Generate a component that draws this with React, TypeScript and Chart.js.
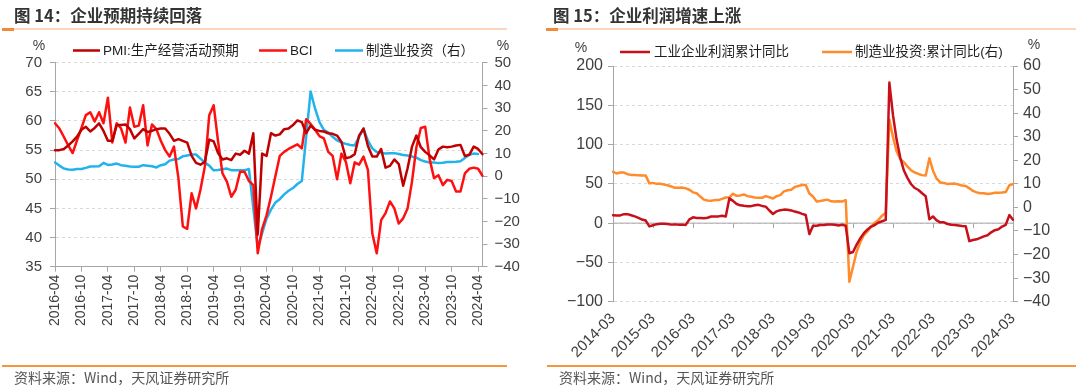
import React, { useEffect, useRef } from "react";
import { Chart, registerables } from "chart.js";
Chart.register(...registerables);

const LATIN = '"Liberation Sans", Arial, sans-serif';
const MIXED = '"Liberation Sans", "Noto Sans CJK SC", sans-serif';
const CJK = '"Noto Sans CJK SC", "Liberation Sans", sans-serif';
const AXIS = "#A6A6A6";
const GRID = "#D9D9D9";
const TEXT = "#404040";

function monthRange(start: string, end: string, skipJan: boolean): string[] {
  const [sy, sm] = start.split("-").map(Number);
  const [ey, em] = end.split("-").map(Number);
  const out: string[] = [];
  let y = sy, m = sm;
  while (y < ey || (y === ey && m <= em)) {
    if (!(skipJan && m === 1)) out.push(`${y}-${String(m).padStart(2, "0")}`);
    m++;
    if (m > 12) { m = 1; y++; }
  }
  return out;
}

// ---------- Figure 14 ----------
const leftMonths = monthRange("2016-04", "2024-05", false);
const leftLabelEvery = 6;
const leftYTicks = { min: 35, max: 70, step: 5 };
const leftY1Ticks = { min: -40, max: 50, step: 10 };

const pmiExpect = [
  55.0, 55.0, 55.2, 55.8, 56.5, 57.3, 58.5, 59.0, 58.2, 58.8, 59.6, 58.3,
  56.6, 56.6, 59.3, 59.3, 59.4, 58.6, 57.0, 57.8, 58.6, 58.1, 58.3, 58.6,
  58.7, 58.7, 57.8, 56.6, 56.9, 56.6, 56.3, 54.0, 52.8, 52.5, 53.0, 56.8,
  56.5, 54.5, 53.4, 53.6, 53.3, 54.4, 54.2, 54.9, 54.4, 57.9, 40.5, 54.4,
  54.0, 57.9, 57.5, 57.7, 58.6, 58.7, 59.3, 60.1, 59.8, 57.9, 59.2, 58.5,
  58.3, 58.2, 57.9, 57.8, 57.5, 56.4, 53.6, 53.8, 54.3, 57.5, 58.7, 55.7,
  53.9, 53.9, 55.2, 52.0, 52.3, 53.4, 52.6, 48.9, 51.9, 55.6, 57.5, 55.5,
  54.7, 54.1, 53.4, 55.1, 55.6, 55.5, 55.6, 55.8, 55.9, 54.0, 54.2, 55.6,
  55.2, 54.3,
];

const bci = [
  59.6, 58.7, 57.3, 55.8, 54.5, 56.7, 58.8, 61.0, 61.5, 59.9, 61.5, 59.6,
  64.0, 56.3, 59.6, 58.7, 56.3, 62.3, 59.0, 59.2, 62.7, 55.8, 59.4, 58.6,
  56.6, 55.0, 53.9, 55.6, 50.2, 41.9, 41.5, 47.6, 45.0, 48.2, 52.2, 61.0,
  62.7, 56.5, 51.0, 49.6, 47.0, 48.2, 51.3, 51.3, 49.7, 49.0, 37.3, 41.5,
  43.8, 47.0, 50.5, 54.0, 54.7, 55.2, 55.6, 56.0, 55.3, 60.3, 59.5, 58.5,
  57.4, 57.0, 54.7, 54.0, 50.0, 54.4, 53.0, 49.3, 52.9, 52.5, 53.9, 51.6,
  40.7, 37.3, 43.0, 44.2, 46.2, 45.0, 42.4, 43.3, 45.0, 49.6, 55.5, 58.8,
  59.0, 53.5, 50.2, 50.7, 49.0, 49.9, 49.7, 47.9, 47.9, 51.0, 51.8, 52.0,
  51.8, 50.6,
];

const mfgInvestLeft = [
  6.0, 4.6, 3.3, 2.9, 2.8, 3.1, 3.1, 3.6, 4.2, null, 4.3, 5.8,
  4.9, 5.1, 5.5, 4.8, 4.5, 4.2, 4.1, 4.1, 4.8, null, 4.3, 3.8,
  4.8, 5.2, 6.8, 7.3, 7.5, 8.7, 9.1, 9.5, 9.5, null, 5.9, 4.6,
  2.5, 2.7, 3.0, 3.3, 2.6, 2.5, 2.6, 2.5, 3.1, null, -31.5, -25.2,
  -18.8, -14.8, -11.7, -10.2, -8.1, -6.5, -5.3, -3.5, -2.2, null, 37.3, 29.8,
  23.8, 20.4, 19.2, 17.3, 15.7, 14.8, 14.2, 13.7, 13.5, null, 20.9, 15.6,
  12.2, 10.6, 10.4, 9.9, 10.0, 10.1, 9.7, 9.3, 9.1, null, 8.1, 7.0,
  6.4, 6.0, 6.0, 5.7, 5.9, 6.2, 6.2, 6.3, 6.5, null, 9.4, 9.9,
  9.7, null,
];

// ---------- Figure 15 ----------
const rightMonths = monthRange("2014-03", "2024-03", true);
const rightLabelEvery = 11;
const rightYTicks = { min: -100, max: 200, step: 50 };
const rightY1Ticks = { min: -40, max: 60, step: 10 };

const profitCum = [
  10.1, 9.6, 9.8, 11.4, 11.4, 10.0, 8.6, 6.7, 4.6, 3.3,
  -4.2, -2.7, -1.3, -0.8, -0.7, -1.0, -1.9, -1.7, -1.9, -1.9, -2.3,
  4.8, 7.4, 6.5, 6.4, 6.2, 6.9, 8.4, 8.4, 8.6, 9.4, 8.5,
  31.5, 28.3, 24.4, 22.7, 22.0, 21.6, 21.6, 22.8, 23.3, 21.9, 21.0,
  16.1, 11.6, 15.0, 16.5, 17.2, 17.1, 16.2, 14.7, 13.6, 11.8, 10.3,
  -14.0, -3.3, -3.4, -2.3, -2.4, -1.7, -1.7, -2.1, -2.9, -2.1, -3.3,
  -38.3, -36.7, -27.4, -19.3, -12.8, -8.1, -4.4, -2.4, 0.7, 2.4, 4.1,
  178.9, 137.3, 106.0, 83.4, 66.9, 57.3, 49.5, 44.7, 42.2, 38.0, 34.3,
  5.0, 8.5, 3.5, 1.0, 1.0, -1.1, -2.1, -2.3, -3.0, -3.6, -4.0,
  -22.9, -21.4, -20.6, -18.8, -16.8, -15.5, -11.7, -9.0, -7.8, -4.4, -2.3,
  10.2, 4.3,
];

const mfgInvestCum = [
  15.1, 14.4, 14.8, 14.8, 14.1, 13.8, 13.8, 13.6, 13.5, 13.5,
  10.2, 10.4, 10.0, 10.0, 9.7, 9.4, 8.9, 8.3, 8.3, 8.4, 8.1,
  7.5, 6.4, 6.0, 4.6, 3.3, 2.9, 2.8, 3.1, 3.1, 3.6, 4.2,
  4.3, 5.8, 4.9, 5.1, 5.5, 4.8, 4.5, 4.2, 4.1, 4.1, 4.8,
  4.3, 3.8, 4.8, 5.2, 6.8, 7.3, 7.5, 8.7, 9.1, 9.5, 9.5,
  5.9, 4.6, 2.5, 2.7, 3.0, 3.3, 2.6, 2.5, 2.6, 2.5, 3.1,
  -31.5, -25.2, -18.8, -14.8, -11.7, -10.2, -8.1, -6.5, -5.3, -3.5, -2.2,
  37.3, 29.8, 23.8, 20.4, 19.2, 17.3, 15.7, 14.8, 14.2, 13.7, 13.5,
  20.9, 15.6, 12.2, 10.6, 10.4, 9.9, 10.0, 10.1, 9.7, 9.3, 9.1,
  8.1, 7.0, 6.4, 6.0, 6.0, 5.7, 5.9, 6.2, 6.2, 6.3, 6.5,
  9.4, 9.9,
];

const minusFmt = (v: any) => String(v).replace("-", "\u2212");

type Spot = { x0: number; x1: number; tx: number };
function overlayPlugin(id: string, spots: Spot[], y: number, units: { x: number; y: number }[]) {
  return {
    id,
    afterDraw(chart: any) {
      const ctx = chart.ctx;
      ctx.save();
      chart.data.datasets.forEach((ds: any, i: number) => {
        const s = spots[i];
        ctx.strokeStyle = ds.borderColor;
        ctx.lineWidth = 2.5;
        ctx.beginPath();
        ctx.moveTo(s.x0, y);
        ctx.lineTo(s.x1, y);
        ctx.stroke();
        ctx.fillStyle = "#1e1e1e";
        ctx.font = `13.5px ${MIXED}`;
        ctx.textBaseline = "middle";
        ctx.textAlign = "left";
        ctx.fillText(ds.label, s.tx, y + 0.5);
      });
      ctx.font = `14px ${LATIN}`;
      ctx.fillStyle = TEXT;
      ctx.textAlign = "center";
      ctx.textBaseline = "middle";
      units.forEach((u) => ctx.fillText("%", u.x, u.y));
      ctx.restore();
    },
  };
}

const zeroAxisPlugin = {
  id: "zeroAxis",
  beforeDatasetsDraw(chart: any) {
    const { ctx, chartArea, scales } = chart;
    const y0 = scales.y.getPixelForValue(0);
    ctx.save();
    ctx.strokeStyle = AXIS;
    ctx.lineWidth = 1;
    ctx.beginPath();
    ctx.moveTo(chartArea.left, y0);
    ctx.lineTo(chartArea.right, y0);
    rightMonths.forEach((_, i) => {
      if (i % rightLabelEvery === 0) {
        const x = Math.round(scales.x.getPixelForValue(i)) + 0.5;
        ctx.moveTo(x, y0);
        ctx.lineTo(x, y0 + 5);
      }
    });
    ctx.stroke();
    ctx.restore();
  },
};

const lineDs = (label: string, data: any[], color: string, axis: string) => ({
  label,
  data,
  borderColor: color,
  backgroundColor: color,
  borderWidth: 2.5,
  pointRadius: 0,
  tension: 0,
  spanGaps: true,
  borderJoinStyle: "round" as const,
  borderCapStyle: "round" as const,
  yAxisID: axis,
});

function leftConfig(): any {
  return {
    type: "line",
    data: {
      labels: leftMonths,
      datasets: [
        lineDs("PMI:生产经营活动预期", pmiExpect, "#C00000", "y"),
        lineDs("BCI", bci, "#FF1010", "y"),
        lineDs("制造业投资（右）", mfgInvestLeft, "#22B2EC", "y1"),
      ],
    },
    options: {
      responsive: false,
      animation: false,
      events: [],
      layout: { padding: { top: 62.7, left: 0, right: 0, bottom: 0 } },
      plugins: { legend: { display: false }, tooltip: { enabled: false } },
      scales: {
        x: {
          type: "category",
          offset: false,
          grid: { drawOnChartArea: false, tickLength: 5, tickColor: AXIS, color: AXIS },
          border: { color: AXIS },
          ticks: {
            autoSkip: false,
            minRotation: 90,
            maxRotation: 90,
            padding: 3,
            color: TEXT,
            font: { family: LATIN, size: 14 },
            callback: (_v: any, i: number) => (i % leftLabelEvery === 0 ? leftMonths[i] : null),
          },
          afterFit: (s: any) => { s.height = 124.3; },
        },
        y: {
          position: "left",
          min: leftYTicks.min,
          max: leftYTicks.max,
          grid: { color: GRID, tickColor: AXIS, tickLength: 5 },
          border: { color: AXIS, dash: [3, 3] },
          ticks: { stepSize: leftYTicks.step, padding: 8, color: TEXT, font: { family: LATIN, size: 15 }, callback: minusFmt },
          afterFit: (s: any) => { s.width = 55; },
        },
        y1: {
          position: "right",
          min: leftY1Ticks.min,
          max: leftY1Ticks.max,
          grid: { drawOnChartArea: false, tickColor: AXIS, color: AXIS, tickLength: 5 },
          border: { color: AXIS },
          ticks: { stepSize: leftY1Ticks.step, padding: 7, color: TEXT, font: { family: LATIN, size: 15 }, callback: minusFmt },
          afterFit: (s: any) => { s.width = 57.5; },
        },
      },
    },
    plugins: [
      overlayPlugin(
        "legendL",
        [
          { x0: 73, x1: 100, tx: 103 },
          { x0: 259, x1: 287, tx: 290 },
          { x0: 335, x1: 363, tx: 366 },
        ],
        50.5,
        [{ x: 39, y: 46 }, { x: 503, y: 46 }]
      ),
    ],
  };
}

function rightConfig(): any {
  return {
    type: "line",
    data: {
      labels: rightMonths,
      datasets: [
        lineDs("工业企业利润累计同比", profitCum, "#C8101A", "y"),
        lineDs("制造业投资:累计同比(右)", mfgInvestCum, "#FF8B2A", "y1"),
      ],
    },
    options: {
      responsive: false,
      animation: false,
      events: [],
      layout: { padding: { top: 66, left: 0, right: 0, bottom: 0 } },
      plugins: { legend: { display: false }, tooltip: { enabled: false } },
      scales: {
        x: {
          type: "category",
          offset: false,
          grid: { display: false, drawTicks: false },
          border: { display: false },
          ticks: {
            autoSkip: false,
            minRotation: 45,
            maxRotation: 45,
            padding: 8,
            color: TEXT,
            font: { family: LATIN, size: 15 },
            callback: (_v: any, i: number) => (i % rightLabelEvery === 0 ? rightMonths[i] : null),
          },
          afterFit: (s: any) => { s.height = 89.3; },
        },
        y: {
          position: "left",
          min: rightYTicks.min,
          max: rightYTicks.max,
          grid: { color: GRID, tickColor: AXIS, tickLength: 5 },
          border: { color: AXIS, dash: [3, 3] },
          ticks: { stepSize: rightYTicks.step, padding: 5, color: TEXT, font: { family: LATIN, size: 16 }, callback: minusFmt },
          afterFit: (s: any) => { s.width = 73; },
        },
        y1: {
          position: "right",
          min: rightY1Ticks.min,
          max: rightY1Ticks.max,
          grid: { drawOnChartArea: false, tickColor: AXIS, color: AXIS, tickLength: 5 },
          border: { color: AXIS },
          ticks: { stepSize: rightY1Ticks.step, padding: 5, color: TEXT, font: { family: LATIN, size: 16 }, callback: minusFmt },
          afterFit: (s: any) => { s.width = 67; },
        },
      },
    },
    plugins: [
      zeroAxisPlugin,
      overlayPlugin(
        "legendR",
        [
          { x0: 80, x1: 110, tx: 114 },
          { x0: 282, x1: 312, tx: 315 },
        ],
        52,
        [{ x: 41, y: 48 }, { x: 494, y: 45 }]
      ),
    ],
  };
}

function ChartCanvas({ makeConfig, left }: { makeConfig: () => any; left: number }) {
  const ref = useRef<HTMLCanvasElement>(null);
  useEffect(() => {
    const chart = new Chart(ref.current as HTMLCanvasElement, makeConfig());
    return () => chart.destroy();
  }, []);
  return (
    <canvas
      ref={ref}
      width={540}
      height={391}
      style={{ position: "absolute", left, top: 0, width: 540, height: 391 }}
    />
  );
}

const titleStyle = (left: number): React.CSSProperties => ({
  position: "absolute",
  left,
  top: 4,
  font: `bold 16.5px ${CJK}`,
  color: "#333333",
  lineHeight: "22px",
  whiteSpace: "nowrap",
});
const footStyle = (left: number): React.CSSProperties => ({
  position: "absolute",
  left,
  top: 368,
  font: `14px ${CJK}`,
  color: "#555555",
  lineHeight: "19px",
  whiteSpace: "nowrap",
});
const bar = (left: number, top: number, width: number, height: number, bg: string): React.CSSProperties => ({
  position: "absolute",
  left,
  top,
  width,
  height,
  background: bg,
});

export default function App() {
  return (
    <div style={{ position: "absolute", left: 0, top: 0, width: 1080, height: 391, background: "#ffffff", overflow: "hidden" }}>
      <ChartCanvas makeConfig={leftConfig} left={0} />
      <ChartCanvas makeConfig={rightConfig} left={540} />
      <div style={titleStyle(14)}>图 14：企业预期持续回落</div>
      <div style={titleStyle(553)}>图 15：企业利润增速上涨</div>
      <div style={bar(2, 28, 505, 2, "#FBD6BA")} />
      <div style={bar(2, 28, 12, 3, "#F08A38")} />
      <div style={bar(546, 28, 530, 2, "#FBD6BA")} />
      <div style={bar(546, 28, 12, 3, "#F08A38")} />
      <div style={bar(2, 365, 505, 2, "#F7953F")} />
      <div style={bar(547, 365, 529, 2, "#F7953F")} />
      <div style={footStyle(14)}>资料来源：Wind，天风证券研究所</div>
      <div style={footStyle(559)}>资料来源：Wind，天风证券研究所</div>
    </div>
  );
}
